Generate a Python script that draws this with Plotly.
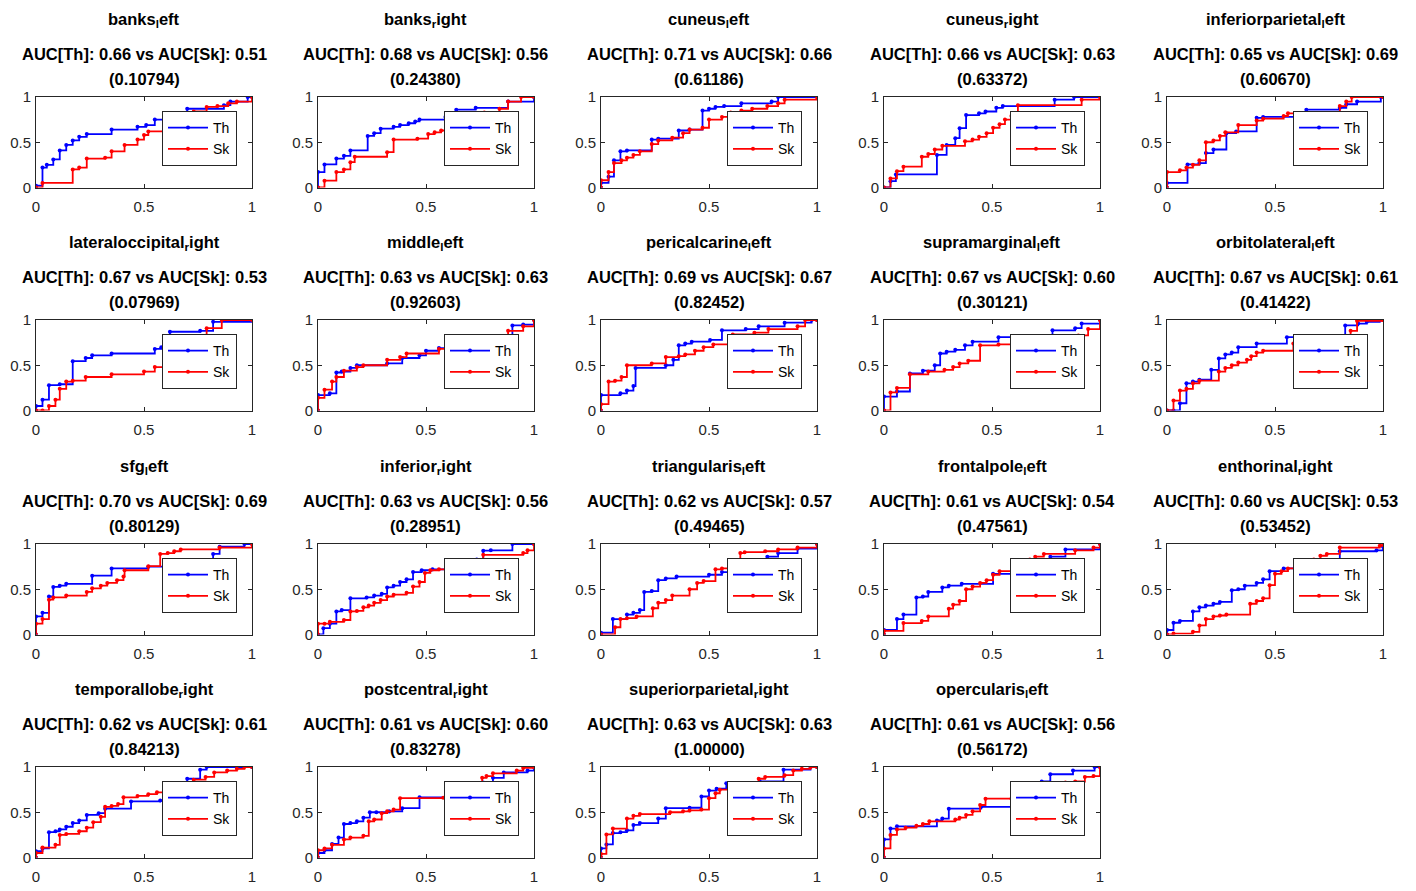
import plotly.graph_objects as go

# ---------------- data ----------------
NAMES = ["banks", "banks", "cuneus", "cuneus", "inferiorparietal",
         "lateraloccipital", "middle", "pericalcarine", "supramarginal", "orbitolateral",
         "sfg", "inferior", "triangularis", "frontalpole", "enthorinal",
         "temporallobe", "postcentral", "superiorparietal", "opercularis"]
SIDES = ["left", "right", "left", "right", "left",
         "right", "left", "left", "left", "left",
         "left", "right", "left", "left", "right",
         "right", "right", "right", "left"]
AUC_TH = ["0.66", "0.68", "0.71", "0.66", "0.65", "0.67", "0.63", "0.69", "0.67", "0.67",
          "0.70", "0.63", "0.62", "0.61", "0.60", "0.62", "0.61", "0.63", "0.61"]
AUC_SK = ["0.51", "0.56", "0.66", "0.63", "0.69", "0.53", "0.63", "0.67", "0.60", "0.61",
          "0.69", "0.56", "0.57", "0.54", "0.53", "0.61", "0.60", "0.63", "0.56"]
P_VALS = ["0.10794", "0.24380", "0.61186", "0.63372", "0.60670", "0.07969", "0.92603",
          "0.82452", "0.30121", "0.41422", "0.80129", "0.28951", "0.49465", "0.47561",
          "0.53452", "0.84213", "0.83278", "1.00000", "0.56172"]

TH_X = [
    [0, 0, 0.03, 0.05, 0.08, 0.11, 0.14, 0.17, 0.20, 0.235, 0.35, 0.47, 0.51, 0.55, 0.70, 0.87, 0.90, 0.98, 1.0],
    [0, 0, 0.03, 0.085, 0.12, 0.15, 0.23, 0.26, 0.29, 0.35, 0.38, 0.42, 0.45, 0.47, 0.59, 0.64, 0.73, 0.88, 1.0],
    [0, 0, 0.035, 0.06, 0.09, 0.12, 0.235, 0.265, 0.36, 0.41, 0.47, 0.50, 0.53, 0.57, 0.65, 0.79, 0.82, 1.0],
    [0, 0.03, 0.055, 0.245, 0.29, 0.33, 0.35, 0.38, 0.44, 0.47, 0.52, 0.55, 0.79, 0.88, 1.0],
    [0, 0, 0.095, 0.15, 0.18, 0.215, 0.275, 0.32, 0.415, 0.445, 0.645, 0.80, 0.83, 0.88, 0.99, 1.0],
    [0, 0, 0.03, 0.06, 0.11, 0.17, 0.23, 0.26, 0.35, 0.55, 0.58, 0.62, 0.76, 0.82, 1.0],
    [0, 0, 0.055, 0.085, 0.11, 0.15, 0.18, 0.32, 0.39, 0.47, 0.50, 0.56, 0.60, 0.77, 0.90, 0.95, 1.0],
    [0, 0, 0.09, 0.12, 0.15, 0.16, 0.30, 0.335, 0.36, 0.39, 0.42, 0.505, 0.56, 0.67, 0.73, 0.85, 0.975, 1.0],
    [0, 0, 0.06, 0.12, 0.18, 0.235, 0.26, 0.29, 0.33, 0.375, 0.41, 0.53, 0.67, 0.78, 0.885, 0.915, 1.0],
    [0, 0.03, 0.06, 0.09, 0.12, 0.15, 0.205, 0.24, 0.27, 0.30, 0.33, 0.415, 0.555, 0.60, 0.825, 0.885, 0.925, 0.985, 1.0],
    [0, 0, 0.03, 0.06, 0.08, 0.11, 0.14, 0.26, 0.35, 0.52, 0.79, 0.82, 0.85, 0.965, 1.0],
    [0, 0.025, 0.055, 0.085, 0.11, 0.15, 0.225, 0.26, 0.295, 0.32, 0.35, 0.38, 0.41, 0.44, 0.48, 0.53, 0.70, 0.735, 0.765, 0.80, 0.90, 1.0],
    [0, 0, 0.055, 0.12, 0.15, 0.18, 0.20, 0.235, 0.265, 0.30, 0.35, 0.50, 0.56, 0.70, 0.77, 0.82, 0.91, 1.0],
    [0, 0, 0.06, 0.09, 0.15, 0.18, 0.205, 0.27, 0.30, 0.36, 0.505, 0.74, 0.77, 0.84, 1.0],
    [0, 0, 0.03, 0.06, 0.12, 0.15, 0.18, 0.215, 0.245, 0.30, 0.33, 0.36, 0.415, 0.445, 0.475, 0.54, 0.71, 0.80, 0.97, 1.0],
    [0, 0, 0.03, 0.06, 0.09, 0.11, 0.14, 0.17, 0.20, 0.235, 0.29, 0.32, 0.44, 0.575, 0.70, 0.76, 0.79, 1.0],
    [0, 0, 0.03, 0.065, 0.095, 0.12, 0.15, 0.18, 0.21, 0.24, 0.27, 0.33, 0.39, 0.47, 0.67, 0.765, 0.81, 0.86, 0.97, 1.0],
    [0, 0, 0.025, 0.055, 0.09, 0.12, 0.15, 0.18, 0.265, 0.30, 0.41, 0.465, 0.50, 0.535, 0.58, 0.735, 0.845, 0.97, 1.0],
    [0, 0, 0.03, 0.06, 0.245, 0.27, 0.30, 0.45, 0.60, 0.73, 0.77, 0.875, 0.975, 1.0],
]
TH_Y = [
    [0, 0.02, 0.22, 0.25, 0.31, 0.41, 0.47, 0.52, 0.56, 0.59, 0.64, 0.67, 0.69, 0.75, 0.87, 0.91, 0.95, 1.0, 1.0],
    [0, 0.17, 0.255, 0.32, 0.35, 0.41, 0.57, 0.60, 0.65, 0.67, 0.69, 0.71, 0.73, 0.75, 0.78, 0.86, 0.88, 0.95, 1.0],
    [0, 0.05, 0.12, 0.30, 0.40, 0.41, 0.53, 0.54, 0.63, 0.64, 0.85, 0.87, 0.89, 0.90, 0.93, 0.95, 1.0, 1.0],
    [0, 0.07, 0.145, 0.36, 0.47, 0.545, 0.655, 0.80, 0.82, 0.84, 0.88, 0.90, 0.97, 1.0, 1.0],
    [0, 0.05, 0.255, 0.27, 0.38, 0.42, 0.60, 0.62, 0.77, 0.78, 0.86, 0.88, 0.92, 0.95, 1.0, 1.0],
    [0, 0.05, 0.12, 0.28, 0.29, 0.545, 0.58, 0.61, 0.63, 0.68, 0.70, 0.87, 0.88, 0.98, 1.0],
    [0, 0.17, 0.19, 0.42, 0.43, 0.47, 0.50, 0.52, 0.58, 0.61, 0.66, 0.69, 0.72, 0.82, 0.94, 0.95, 1.0],
    [0, 0.17, 0.19, 0.22, 0.27, 0.47, 0.50, 0.56, 0.72, 0.74, 0.76, 0.78, 0.886, 0.90, 0.93, 0.97, 1.0, 1.0],
    [0, 0.154, 0.21, 0.41, 0.44, 0.50, 0.63, 0.65, 0.67, 0.72, 0.76, 0.81, 0.82, 0.886, 0.91, 0.96, 1.0],
    [0, 0.0, 0.08, 0.30, 0.32, 0.34, 0.45, 0.575, 0.62, 0.64, 0.70, 0.74, 0.81, 0.81, 0.94, 0.96, 0.98, 1.0, 1.0],
    [0, 0.20, 0.24, 0.42, 0.526, 0.54, 0.56, 0.65, 0.73, 0.75, 0.82, 0.89, 0.97, 1.0, 1.0],
    [0, 0.07, 0.12, 0.255, 0.27, 0.40, 0.41, 0.43, 0.45, 0.52, 0.54, 0.58, 0.61, 0.69, 0.71, 0.72, 0.82, 0.83, 0.926, 0.93, 1.0, 1.0],
    [0, 0.02, 0.17, 0.22, 0.24, 0.27, 0.47, 0.48, 0.60, 0.62, 0.64, 0.66, 0.69, 0.82, 0.86, 0.90, 0.95, 1.0],
    [0, 0.05, 0.17, 0.22, 0.41, 0.42, 0.47, 0.52, 0.54, 0.56, 0.67, 0.82, 0.86, 0.94, 1.0],
    [0, 0.05, 0.13, 0.15, 0.255, 0.30, 0.32, 0.34, 0.36, 0.49, 0.50, 0.54, 0.57, 0.61, 0.70, 0.73, 0.82, 0.92, 0.93, 0.97],
    [0, 0.07, 0.10, 0.28, 0.29, 0.31, 0.34, 0.38, 0.41, 0.47, 0.49, 0.54, 0.62, 0.63, 0.87, 0.97, 1.0, 1.0],
    [0, 0.05, 0.08, 0.15, 0.22, 0.37, 0.38, 0.40, 0.44, 0.50, 0.50, 0.51, 0.545, 0.665, 0.82, 0.83, 0.88, 0.94, 0.96, 1.0],
    [0, 0.10, 0.144, 0.27, 0.28, 0.30, 0.36, 0.38, 0.43, 0.545, 0.55, 0.674, 0.74, 0.76, 0.82, 0.84, 0.97, 1.0, 1.0],
    [0, 0.20, 0.32, 0.345, 0.41, 0.43, 0.54, 0.56, 0.60, 0.84, 0.92, 0.96, 1.0, 1.0],
]
SK_X = [
    [0, 0.03, 0.17, 0.20, 0.235, 0.32, 0.35, 0.41, 0.47, 0.50, 0.52, 0.60, 0.70, 0.73, 0.79, 0.84, 0.89, 0.93, 1.0],
    [0, 0.03, 0.085, 0.12, 0.15, 0.17, 0.32, 0.35, 0.46, 0.51, 0.54, 0.57, 0.70, 0.77, 0.84, 0.88, 0.94, 1.0],
    [0, 0, 0.035, 0.06, 0.095, 0.12, 0.15, 0.18, 0.235, 0.265, 0.33, 0.38, 0.41, 0.47, 0.50, 0.56, 0.60, 0.65, 0.70, 0.77, 0.82, 0.85, 1.0],
    [0, 0.03, 0.06, 0.09, 0.175, 0.205, 0.235, 0.27, 0.375, 0.41, 0.44, 0.475, 0.505, 0.535, 0.56, 0.59, 0.62, 0.915, 1.0],
    [0, 0, 0.06, 0.09, 0.12, 0.15, 0.18, 0.215, 0.245, 0.27, 0.33, 0.415, 0.445, 0.54, 0.56, 0.80, 0.83, 0.855, 1.0],
    [0, 0.03, 0.06, 0.09, 0.11, 0.14, 0.17, 0.23, 0.35, 0.50, 0.55, 0.79, 0.86, 1.0],
    [0, 0, 0.03, 0.065, 0.085, 0.12, 0.18, 0.21, 0.32, 0.38, 0.41, 0.56, 0.78, 0.88, 0.95, 1.0],
    [0, 0, 0.035, 0.065, 0.095, 0.12, 0.235, 0.30, 0.36, 0.39, 0.435, 0.475, 0.52, 0.61, 0.71, 0.775, 0.91, 0.945, 1.0],
    [0, 0.03, 0.06, 0.12, 0.205, 0.28, 0.32, 0.35, 0.39, 0.445, 0.53, 0.77, 0.90, 0.945, 1.0],
    [0, 0.03, 0.06, 0.09, 0.12, 0.15, 0.24, 0.27, 0.30, 0.33, 0.37, 0.39, 0.415, 0.445, 0.585, 0.85, 0.88, 1.0],
    [0, 0, 0.03, 0.06, 0.08, 0.14, 0.235, 0.26, 0.30, 0.33, 0.375, 0.405, 0.41, 0.52, 0.575, 0.61, 0.64, 0.67, 0.85, 1.0],
    [0, 0, 0.03, 0.055, 0.12, 0.15, 0.18, 0.21, 0.235, 0.26, 0.29, 0.32, 0.35, 0.41, 0.44, 0.47, 0.495, 0.52, 0.56, 0.765, 0.95, 0.97, 1.0],
    [0, 0.065, 0.09, 0.12, 0.165, 0.24, 0.265, 0.30, 0.33, 0.41, 0.445, 0.475, 0.53, 0.56, 0.645, 0.665, 0.76, 0.82, 0.91, 1.0],
    [0, 0, 0.09, 0.175, 0.205, 0.30, 0.32, 0.35, 0.38, 0.41, 0.445, 0.475, 0.505, 0.535, 0.675, 0.70, 0.74, 0.885, 0.97, 1.0],
    [0, 0.03, 0.12, 0.15, 0.18, 0.215, 0.245, 0.275, 0.385, 0.415, 0.445, 0.475, 0.50, 0.53, 0.56, 0.655, 0.68, 0.71, 0.74, 0.80, 0.985, 1.0],
    [0, 0, 0.03, 0.09, 0.11, 0.14, 0.20, 0.235, 0.265, 0.30, 0.32, 0.35, 0.38, 0.405, 0.47, 0.52, 0.56, 0.67, 0.71, 0.73, 0.785, 0.825, 0.885, 0.93, 0.965, 1.0],
    [0, 0, 0.03, 0.065, 0.12, 0.15, 0.21, 0.235, 0.26, 0.295, 0.32, 0.35, 0.38, 0.58, 0.76, 0.78, 0.81, 0.92, 0.95, 1.0],
    [0, 0, 0.025, 0.055, 0.12, 0.15, 0.18, 0.32, 0.38, 0.41, 0.465, 0.50, 0.53, 0.55, 0.70, 0.73, 0.76, 0.85, 0.89, 0.93, 0.97, 1.0],
    [0, 0, 0.03, 0.06, 0.10, 0.15, 0.18, 0.21, 0.33, 0.35, 0.38, 0.41, 0.445, 0.47, 0.59, 0.745, 0.79, 0.84, 0.885, 0.93, 0.97, 1.0],
]
SK_Y = [
    [0, 0.05, 0.20, 0.22, 0.32, 0.33, 0.40, 0.47, 0.53, 0.58, 0.62, 0.70, 0.80, 0.84, 0.89, 0.90, 0.93, 0.95, 1.0],
    [0, 0.075, 0.17, 0.20, 0.28, 0.34, 0.39, 0.53, 0.54, 0.59, 0.61, 0.63, 0.75, 0.83, 0.87, 0.95, 1.0, 1.0],
    [0, 0.08, 0.17, 0.27, 0.30, 0.33, 0.36, 0.40, 0.48, 0.52, 0.55, 0.60, 0.64, 0.66, 0.75, 0.78, 0.83, 0.85, 0.87, 0.90, 0.93, 0.97, 1.0],
    [0, 0.10, 0.18, 0.23, 0.34, 0.37, 0.42, 0.46, 0.51, 0.53, 0.56, 0.60, 0.66, 0.70, 0.75, 0.79, 0.91, 0.97, 1.0],
    [0, 0.17, 0.19, 0.22, 0.25, 0.30, 0.50, 0.52, 0.57, 0.61, 0.69, 0.74, 0.76, 0.79, 0.82, 0.90, 0.95, 1.0, 1.0],
    [0, 0.0, 0.05, 0.12, 0.24, 0.32, 0.33, 0.37, 0.40, 0.43, 0.48, 0.91, 1.0, 1.0],
    [0, 0.14, 0.23, 0.32, 0.37, 0.44, 0.48, 0.50, 0.56, 0.59, 0.63, 0.68, 0.82, 0.88, 0.93, 1.0],
    [0, 0.07, 0.32, 0.33, 0.37, 0.50, 0.52, 0.59, 0.60, 0.62, 0.66, 0.70, 0.73, 0.84, 0.86, 0.90, 0.93, 1.0, 1.0],
    [0, 0.20, 0.25, 0.40, 0.43, 0.45, 0.48, 0.52, 0.55, 0.72, 0.73, 0.80, 0.83, 0.90, 1.0],
    [0, 0.11, 0.22, 0.24, 0.30, 0.33, 0.43, 0.47, 0.50, 0.53, 0.56, 0.60, 0.64, 0.66, 0.74, 0.88, 0.99, 1.0],
    [0, 0.12, 0.17, 0.385, 0.41, 0.43, 0.47, 0.51, 0.54, 0.57, 0.60, 0.64, 0.71, 0.755, 0.89, 0.90, 0.92, 0.94, 0.96, 1.0],
    [0, 0.12, 0.12, 0.14, 0.16, 0.255, 0.26, 0.30, 0.32, 0.35, 0.38, 0.42, 0.44, 0.46, 0.53, 0.58, 0.68, 0.71, 0.72, 0.88, 0.90, 0.93, 1.0],
    [0, 0.08, 0.17, 0.18, 0.20, 0.29, 0.35, 0.38, 0.43, 0.50, 0.57, 0.59, 0.72, 0.73, 0.90, 0.91, 0.92, 0.94, 0.96, 1.0],
    [0, 0.04, 0.126, 0.15, 0.20, 0.285, 0.33, 0.37, 0.50, 0.53, 0.57, 0.60, 0.66, 0.70, 0.83, 0.86, 0.89, 0.93, 0.96, 1.0],
    [0, 0.01, 0.03, 0.10, 0.17, 0.20, 0.21, 0.22, 0.34, 0.37, 0.40, 0.545, 0.67, 0.70, 0.73, 0.80, 0.83, 0.87, 0.89, 0.96, 0.98, 1.0],
    [0, 0.05, 0.11, 0.14, 0.25, 0.26, 0.29, 0.33, 0.39, 0.45, 0.56, 0.57, 0.59, 0.665, 0.68, 0.70, 0.72, 0.80, 0.82, 0.86, 0.89, 0.94, 0.96, 0.98, 1.0, 1.0],
    [0, 0.08, 0.10, 0.14, 0.20, 0.22, 0.24, 0.40, 0.42, 0.49, 0.51, 0.53, 0.655, 0.66, 0.88, 0.90, 0.93, 0.96, 0.99, 1.0],
    [0, 0.04, 0.255, 0.32, 0.43, 0.46, 0.48, 0.50, 0.51, 0.52, 0.53, 0.655, 0.71, 0.75, 0.80, 0.87, 0.89, 0.91, 0.96, 0.98, 1.0, 1.0],
    [0, 0.10, 0.25, 0.31, 0.33, 0.35, 0.37, 0.40, 0.42, 0.44, 0.47, 0.51, 0.58, 0.65, 0.65, 0.78, 0.82, 0.83, 0.84, 0.89, 0.90, 1.0],
]
SERIES = ["Th", "Sk"]
COLORS = ["#0000FF", "#FF0000"]
TICKS = [0, 0.5, 1]
TICK_TEXT = ["0", "0.5", "1"]

# ---------------- layout geometry (pixels) ----------------
W, H = 1416, 891
COL_L = [36, 318, 601, 884, 1167]
AX_W = 216
ROW_T = [97, 320, 544, 767]
AX_H = 90.5
AXC = "#262626"
TITLE_FONT = dict(family="Liberation Sans, Arial", size=16.5, color="#000000")
TICK_FONT = dict(family="Liberation Sans, Arial", size=15, color=AXC)

fig = go.Figure()
annotations = []
layout_extra = {}

for i in range(len(NAMES)):
    r, c = divmod(i, 5)
    L, T = COL_L[c], ROW_T[r]
    idx = "" if i == 0 else str(i + 1)
    xa, ya = "x" + idx, "y" + idx
    leg = "legend" + idx
    for k, (xs, ys) in enumerate([(TH_X[i], TH_Y[i]), (SK_X[i], SK_Y[i])]):
        fig.add_trace(go.Scatter(
            x=xs, y=ys, mode="lines+markers", name=SERIES[k],
            line=dict(color=COLORS[k], width=1.8, shape="hv"),
            marker=dict(color=COLORS[k], size=4),
            xaxis=xa, yaxis=ya, legend=leg, showlegend=True))
    axis_common = dict(range=[0, 1], tickvals=TICKS, ticktext=TICK_TEXT, ticks="inside",
                       ticklen=4, tickcolor=AXC, showline=True, linecolor=AXC, linewidth=1,
                       mirror="ticks", showgrid=False, zeroline=False, tickfont=TICK_FONT,
                       fixedrange=True)
    layout_extra["xaxis" + idx] = dict(axis_common, domain=[L / W, (L + AX_W) / W],
                                        anchor=ya, ticklabelstandoff=5)
    layout_extra["yaxis" + idx] = dict(axis_common, domain=[1 - (T + AX_H) / H, 1 - T / H],
                                        anchor=xa, ticklabelstandoff=1)
    layout_extra[leg] = dict(x=(L + 126) / W, y=1 - (T + 14) / H, xanchor="left", yanchor="top",
                             bgcolor="white", bordercolor=AXC, borderwidth=1, itemwidth=40,
                             font=dict(family="Liberation Sans, Arial", size=14, color="#000000"),
                             tracegroupgap=0, itemclick=False, itemdoubleclick=False)
    cx = (L + AX_W / 2) / W
    name = f"{NAMES[i]}<sub>{SIDES[i][0]}</sub>{SIDES[i][1:]}"
    lines = [(name, T - 77), (f"AUC[Th]: {AUC_TH[i]} vs AUC[Sk]: {AUC_SK[i]}", T - 43),
             (f"({P_VALS[i]})", T - 18)]
    for txt, py in lines:
        annotations.append(dict(text=f"<b>{txt}</b>", x=cx, y=1 - py / H, xref="paper", yref="paper",
                                xanchor="center", yanchor="middle", showarrow=False,
                                font=TITLE_FONT))

fig.update_layout(width=W, height=H, autosize=False,
                  margin=dict(l=0, r=0, t=0, b=0, autoexpand=False),
                  paper_bgcolor="white", plot_bgcolor="white", annotations=annotations,
                  hovermode=False, **layout_extra)
fig.write_html("out.html", config={"displayModeBar": False})
